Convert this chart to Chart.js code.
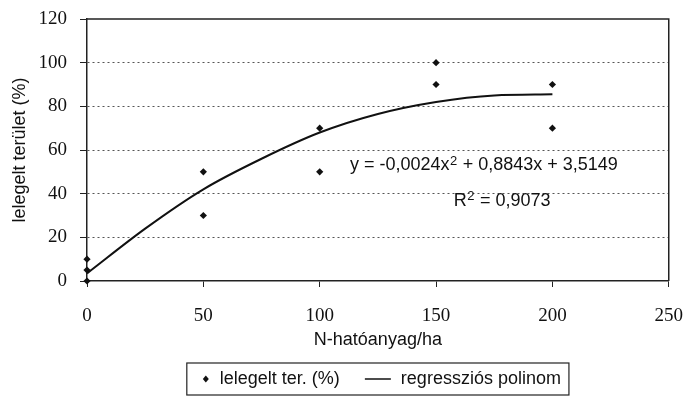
<!DOCTYPE html>
<html><head><meta charset="utf-8">
<script src="https://cdn.jsdelivr.net/npm/chart.js@4/dist/chart.umd.min.js"></script>
<style>html,body{margin:0;padding:0;background:#fff}#wrap{width:683px;height:401px}</style>
</head><body><div id="wrap"><canvas id="c" width="683" height="401"></canvas></div>
<script>
// ---- data ----
const doseX = [0, 0, 0, 50, 50, 100, 100, 150, 150, 200, 200];
const grazedPct = [0, 5, 10, 30, 50, 50, 70, 90, 100, 70, 90];
const fitX = [0, 25, 50, 75, 100, 125, 150, 175, 200];
const fitY = [3.5, 24, 42, 56, 68, 76.5, 82, 85, 85.5];
const xTicks = [0, 50, 100, 150, 200, 250];
const yTicks = [0, 20, 40, 60, 80, 100, 120];
const seriesNames = ['lelegelt ter. (%)', 'regressziós polinom'];
const equationText = ['y = -0,0024x', '2', ' + 0,8843x + 3,5149'];
const r2Text = ['R', '2', ' = 0,9073'];
const xTitle = 'N-hatóanyag/ha';
const yTitle = 'lelegelt terület (%)';

const SANS = "'Liberation Sans', Arial, sans-serif";
const SERIF = "'Liberation Serif', 'Times New Roman', serif";
const INK = '#111';
const BIG = '18px ' + SANS, SMALL = '13px ' + SANS;

const scatterPts = doseX.map((v, i) => ({x: v, y: grazedPct[i]}));
const fitPts = fitX.map((v, i) => ({x: v, y: fitY[i]}));

const decor = {
  id: 'decor',
  afterDraw(chart) {
    const {ctx, chartArea: a, scales: {x, y}} = chart;
    ctx.save();
    // plot frame (top/right)
    ctx.strokeStyle = '#222'; ctx.lineWidth = 1.5;
    ctx.beginPath();
    ctx.moveTo(a.left, a.top); ctx.lineTo(a.right, a.top); ctx.lineTo(a.right, a.bottom);
    ctx.stroke();

    // legend (boxed, below the axis title)
    ctx.font = BIG;
    const t1 = ctx.measureText(seriesNames[0]).width;
    const t2 = ctx.measureText(seriesNames[1]).width;
    const W = 19 + 14 + t1 + 25 + 26 + 10 + t2 + 8;
    const L = (a.left + a.right) / 2 - W / 2;
    const T = x.bottom + 3, H = 32, cy = T + H / 2;
    ctx.lineWidth = 1.2; ctx.strokeStyle = '#222';
    ctx.strokeRect(L, T, W, H);
    const dx = L + 19;
    ctx.fillStyle = INK;
    ctx.beginPath();
    ctx.moveTo(dx, cy - 3.5); ctx.lineTo(dx + 3, cy); ctx.lineTo(dx, cy + 3.5); ctx.lineTo(dx - 3, cy);
    ctx.closePath(); ctx.fill();
    ctx.textBaseline = 'middle'; ctx.textAlign = 'left';
    ctx.fillText(seriesNames[0], dx + 14, cy);
    const lx = dx + 14 + t1 + 25;
    ctx.strokeStyle = INK; ctx.lineWidth = 1.5;
    ctx.beginPath(); ctx.moveTo(lx, cy); ctx.lineTo(lx + 26, cy); ctx.stroke();
    ctx.fillText(seriesNames[1], lx + 36, cy);

    // equation annotation
    function sup(parts, px, py, center) {
      ctx.font = BIG; const w0 = ctx.measureText(parts[0]).width;
      ctx.font = SMALL; const w1 = ctx.measureText(parts[1]).width + 1;
      ctx.font = BIG; const w2 = ctx.measureText(parts[2]).width;
      const sx = center ? px - (w0 + w1 + w2) / 2 : px;
      ctx.font = BIG; ctx.fillText(parts[0], sx, py);
      ctx.font = SMALL; ctx.fillText(parts[1], sx + w0 + 0.5, py - 4);
      ctx.font = BIG; ctx.fillText(parts[2], sx + w0 + w1, py);
    }
    sup(equationText, x.getPixelForValue(113), y.getPixelForValue(52.9), false);
    sup(r2Text, x.getPixelForValue(178.4), y.getPixelForValue(36.8), true);
    ctx.restore();
  }
};

new Chart(document.getElementById('c'), {
  type: 'scatter',
  data: {
    datasets: [
      {
        label: seriesNames[0], data: scatterPts, clip: false,
        pointStyle: 'rectRot', pointRadius: 3.6, pointHoverRadius: 3.6,
        backgroundColor: INK, borderColor: INK, borderWidth: 0, order: 1
      },
      {
        label: seriesNames[1], data: fitPts, showLine: true,
        pointStyle: 'line', pointRadius: 0, borderColor: INK, backgroundColor: INK,
        borderWidth: 2, cubicInterpolationMode: 'monotone', fill: false, order: 2
      }
    ]
  },
  options: {
    responsive: false, devicePixelRatio: 1, animation: false,
    layout: {padding: {left: 0, right: 0, top: 19, bottom: 41}},
    plugins: {
      tooltip: {enabled: false},
      legend: {display: false}
    },
    scales: {
      x: {
        type: 'linear', min: 0, max: 250,
        afterBuildTicks: s => { s.ticks = xTicks.map(v => ({value: v})); },
        afterFit: s => { s.height = 79; },
        ticks: {color: INK, padding: 0, font: {family: SERIF, size: 19, lineHeight: 3.05}},
        grid: {drawOnChartArea: false, tickLength: 6, tickColor: '#222', color: '#222'},
        border: {color: '#222', width: 1.5},
        title: {display: true, text: xTitle, color: INK, font: {family: SANS, size: 18}, padding: {top: 3, bottom: 9}}
      },
      y: {
        min: 0, max: 120,
        afterBuildTicks: s => { s.ticks = yTicks.map(v => ({value: v})); },
        afterFit: s => { s.width = 87; },
        ticks: {color: INK, padding: 13, font: {family: SERIF, size: 19, lineHeight: 0.6}},
        grid: {
          color: c => (c.tick && (c.tick.value === 0 || c.tick.value === 120)) ? 'rgba(0,0,0,0)' : '#555',
          tickColor: '#222', tickLength: 7, tickBorderDash: [], lineWidth: 1
        },
        border: {color: '#222', width: 1.5, dash: [2, 3]},
        title: {display: true, text: yTitle, color: INK, font: {family: SANS, size: 18}, padding: {top: 9, bottom: 4}}
      }
    }
  },
  plugins: [decor]
});
</script></body></html>
